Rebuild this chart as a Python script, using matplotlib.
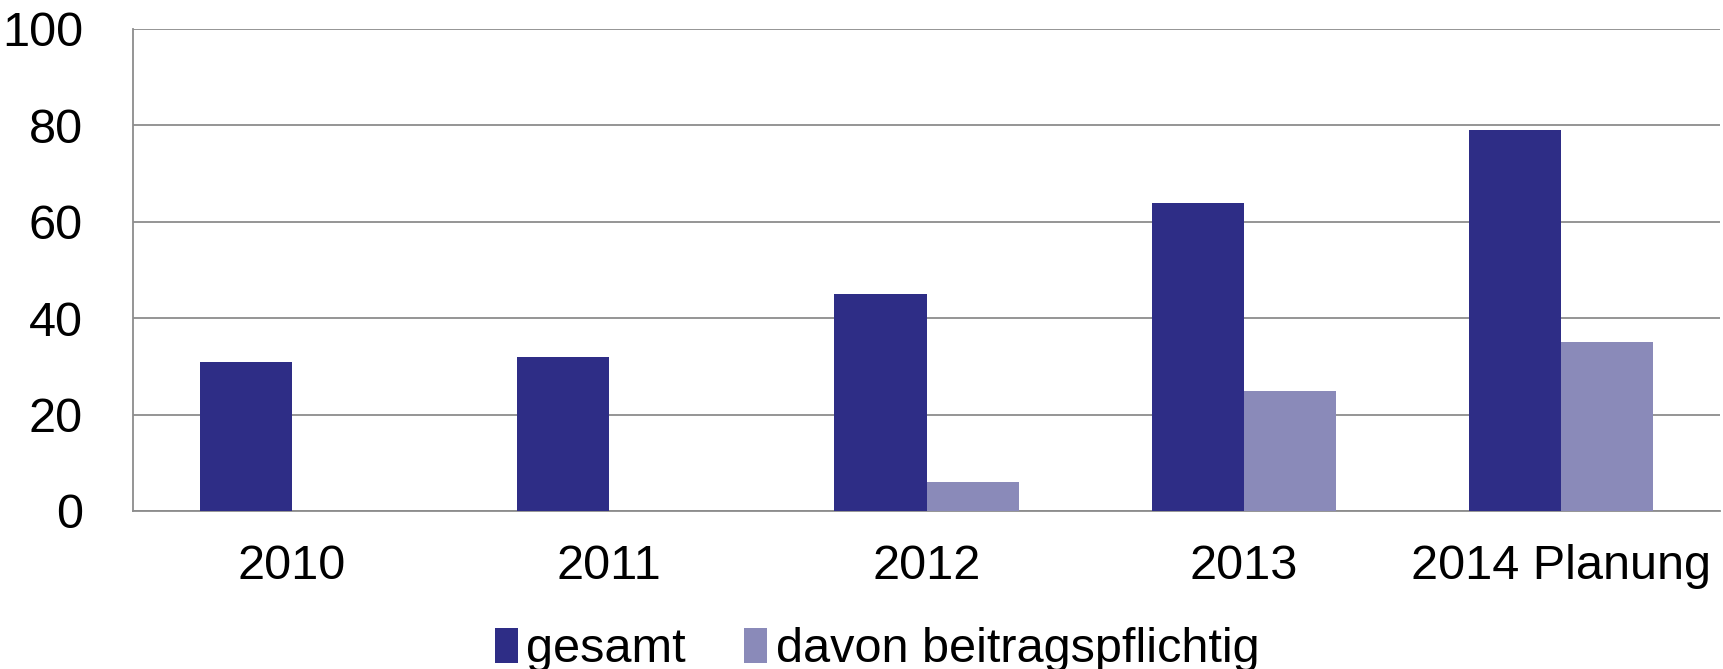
import matplotlib.pyplot as plt
import numpy as np

plt.rcParams['font.family'] = ['Liberation Sans', 'DejaVu Sans']

# data
years = ['2010', '2011', '2012', '2013', '2014 Planung']
gesamt = [31, 32, 45, 64, 79]
davon = [0, 0, 6, 25, 35]

col_ges = '#2e2d86'
col_dav = '#8a8ab9'

fig = plt.figure(figsize=(17.23, 6.69), dpi=100)
ax = fig.add_axes([133 / 1723, 1 - 511 / 669, (1720 - 133) / 1723, (511 - 29) / 669])

x = np.arange(len(years))
w = 0.29
ax.bar(x - w / 2, gesamt, w, color=col_ges, label='gesamt', zorder=3)
ax.bar(x + w / 2, davon, w, color=col_dav, label='davon beitragspflichtig', zorder=3)

ax.set_xlim(-0.5, len(years) - 0.5)
ax.set_ylim(0, 100)
ax.set_yticks([0, 20, 40, 60, 80, 100])
ax.yaxis.grid(True, color='#8c8c8c', lw=1.3, zorder=0)
ax.set_xticks(x)
ax.set_xticklabels(years)
ax.tick_params(axis='both', length=0, labelsize=35)
ax.tick_params(axis='y', pad=36)
ax.tick_params(axis='x', pad=24)
for s in ['top', 'right']:
    ax.spines[s].set_visible(False)
for s in ['left', 'bottom']:
    ax.spines[s].set_color('#8c8c8c')
    ax.spines[s].set_linewidth(1.3)

leg = fig.legend(loc='center', bbox_to_anchor=(877 / 1723, 1 - 650 / 669), ncol=2,
                 frameon=False, fontsize=35, handlelength=0.48, handleheight=0.7,
                 handletextpad=0.17, columnspacing=1.2)

plt.savefig('out.png', dpi=100)
